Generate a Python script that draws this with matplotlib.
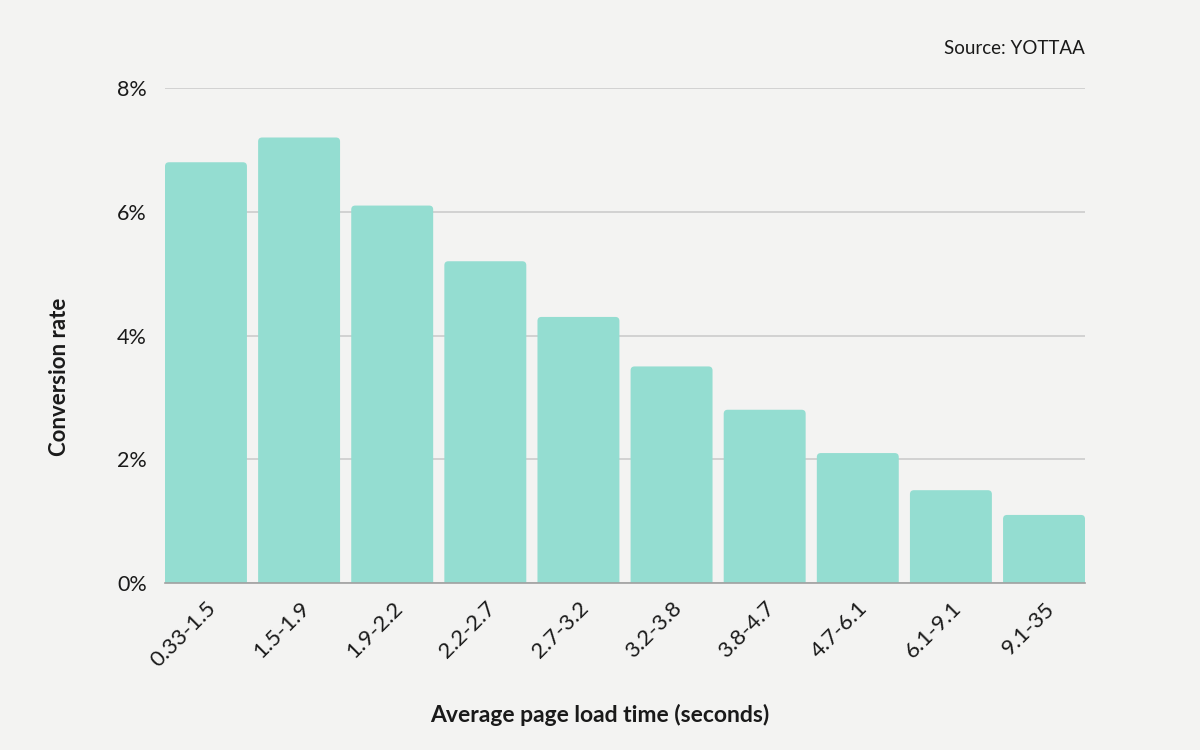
import matplotlib
matplotlib.use("Agg")
import matplotlib.pyplot as plt
from matplotlib.patches import FancyBboxPatch
import numpy as np

BG = "#f3f3f2"
BAR_COLOR = "#94ddd1"
GRID_COLOR = "#c9c9c9"
BASE_COLOR = "#a0a0a0"
TEXT_COLOR = "#1a1a1a"

load_times = ["0.33-1.5", "1.5-1.9", "1.9-2.2", "2.2-2.7", "2.7-3.2",
              "3.2-3.8", "3.8-4.7", "4.7-6.1", "6.1-9.1", "9.1-35"]
conversion = [6.8, 7.2, 6.1, 5.2, 4.3, 3.5, 2.8, 2.1, 1.5, 1.1]
y_ticks = [0, 2, 4, 6, 8]
y_tick_labels = ["0%", "2%", "4%", "6%", "8%"]

plt.rcParams["font.family"] = ["Lato", "DejaVu Sans"]

fig = plt.figure(figsize=(12, 7.5), dpi=100, facecolor=BG)
ax = fig.add_axes([165 / 1200, 167 / 750, 920 / 1200, 495 / 750])
ax.set_facecolor(BG)

width = 0.88
x = np.arange(len(load_times))
bars = ax.bar(x, conversion, width, color=BAR_COLOR, zorder=2)

# swap square bars for ones with rounded top corners
rx = 4 / 93.0     # corner radius in x data units
ry = 4 / 61.9     # corner radius in y data units
for b in bars:
    b.set_visible(False)
    rounded = FancyBboxPatch((b.get_x(), -ry * 2), b.get_width(), b.get_height() + ry * 2,
                             boxstyle="round,pad=0,rounding_size=%f" % rx,
                             mutation_aspect=ry / rx,
                             facecolor=BAR_COLOR, edgecolor="none", zorder=2)
    ax.add_patch(rounded)

ax.set_xlim(-width / 2, len(load_times) - 1 + width / 2)
ax.set_ylim(0, 8)

ax.set_yticks(y_ticks)
ax.set_yticklabels(y_tick_labels, fontsize=15.5, color=TEXT_COLOR)
ax.set_xticks(x)
ax.set_xticklabels(load_times, fontsize=16, color=TEXT_COLOR, rotation=45,
                   ha="right", va="top", rotation_mode="anchor")
ax.tick_params(axis="both", length=0)
ax.tick_params(axis="y", pad=13)
ax.tick_params(axis="x", pad=11)

ax.yaxis.grid(True, color=GRID_COLOR, linewidth=1.1, zorder=1)
ax.set_axisbelow(True)
for s in ["top", "right", "left"]:
    ax.spines[s].set_visible(False)
ax.spines["bottom"].set_color(BASE_COLOR)
ax.spines["bottom"].set_linewidth(1.2)
ax.spines["bottom"].set_zorder(3)

fig.text(600 / 1200, 1 - 715 / 750, "Average page load time (seconds)",
         ha="center", va="center", fontsize=16.5, fontweight="bold", color=TEXT_COLOR)
fig.text(60 / 1200, 1 - 377 / 750, "Conversion rate", rotation=90,
         ha="center", va="center", fontsize=16, fontweight="bold", color=TEXT_COLOR)
fig.text(1085 / 1200, 1 - 48 / 750, "Source: YOTTAA",
         ha="right", va="center", fontsize=13.5, color=TEXT_COLOR)

fig.savefig("out.png", dpi=100, facecolor=BG)
